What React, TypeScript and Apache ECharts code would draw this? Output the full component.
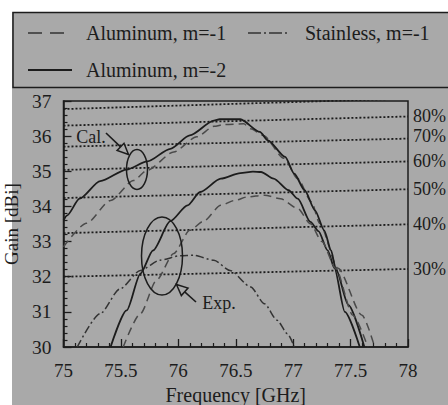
import React, { useEffect, useRef } from "react";
import * as echarts from "echarts";

// ---- data ----
const xTicks = { min: 75, max: 78, step: 0.5 };
const yTicks = { min: 30, max: 37, step: 1 };

// Aluminum, m=-1 (calculated, dashed, upper)
const alM1Cal: [number, number][] = [
  [75.0, 32.85], [75.2, 33.52], [75.41, 34.17], [75.61, 34.74], [75.73, 35.03],
  [75.96, 35.55], [76.16, 35.98], [76.31, 36.28], [76.4, 36.33], [76.57, 36.35],
  [76.63, 36.21], [76.74, 36.02], [76.92, 35.37], [77.04, 34.79], [77.16, 34.13],
  [77.23, 33.52], [77.39, 32.24], [77.6, 30.9], [77.71, 30.0],
];
// Aluminum, m=-2 (calculated, solid, upper)
const alM2Cal: [number, number][] = [
  [75.0, 33.6], [75.03, 33.74], [75.14, 34.22], [75.32, 34.72], [75.55, 35.05],
  [75.73, 35.28], [75.93, 35.64], [76.1, 36.02], [76.31, 36.44], [76.36, 36.48],
  [76.54, 36.48], [76.71, 36.12], [76.78, 35.88], [76.93, 35.41], [77.01, 34.93],
  [77.1, 34.46], [77.19, 33.89], [77.27, 33.32], [77.33, 32.75], [77.37, 32.24],
  [77.48, 31.2], [77.62, 30.0],
];
// Aluminum, m=-2 (experiment, solid, lower)
const alM2Exp: [number, number][] = [
  [75.41, 30.0], [75.55, 31.04], [75.67, 32.09], [75.78, 32.75], [75.93, 33.58],
  [76.08, 34.03], [76.19, 34.41], [76.37, 34.79], [76.54, 34.95], [76.65, 34.99],
  [76.72, 34.98], [76.83, 34.79], [76.96, 34.46], [77.04, 34.22], [77.15, 33.56],
  [77.22, 33.3], [77.3, 32.75], [77.36, 32.24], [77.45, 31.0], [77.58, 30.0],
];
// Aluminum, m=-1 (experiment, dashed, lower)
const alM1Exp: [number, number][] = [
  [75.52, 30.0], [75.67, 30.95], [75.81, 31.9], [75.96, 32.66], [76.1, 33.32],
  [76.22, 33.58], [76.37, 34.03], [76.49, 34.17], [76.6, 34.27], [76.75, 34.32],
  [76.89, 34.22], [77.04, 33.94], [77.15, 33.51], [77.25, 33.0], [77.37, 32.24],
  [77.52, 30.9], [77.65, 30.0],
];
// Stainless, m=-1 (experiment, dash-dot)
const ssM1Exp: [number, number][] = [
  [75.12, 30.0], [75.32, 30.95], [75.49, 31.65], [75.67, 32.18], [75.84, 32.47],
  [76.02, 32.6], [76.13, 32.61], [76.31, 32.47], [76.45, 32.18], [76.63, 31.71],
  [76.75, 31.23], [76.86, 30.76], [76.95, 30.38], [77.01, 30.0],
];

// aperture-efficiency reference lines: gain at 75 GHz and at 78 GHz
const effLabels = ["90%", "80%", "70%", "60%", "50%", "40%", "30%"];
const effGain75 = [36.77, 36.3, 35.7, 35.04, 34.24, 33.24, 32.0];
const effGain78 = [37.07, 36.56, 35.93, 35.28, 34.49, 33.49, 32.22];

const legendNames = ["Aluminum, m=-1", "Stainless, m=-1", "Aluminum, m=-2"];
const annotationTexts = ["Cal.", "Exp."];

// ---- styles ----
const FONT = "'Liberation Serif', 'Times New Roman', Times, serif";
const INK = "#1c1c1c";
const BG = "#a9a9a9";
const DASH = [8, 5];
const DASHDOT = [8, 3, 2, 3];
const effLabelOffsetY: Record<string, number> = { "70%": -3 };

export default function App() {
  const ref = useRef<HTMLDivElement>(null);

  useEffect(() => {
    if (!ref.current) return;
    const chart = echarts.init(ref.current, undefined, { renderer: "svg" });

    const curve = (name: string, data: [number, number][], type: any, color: string, width: number) => ({
      type: "line",
      name,
      data,
      symbol: "none",
      smooth: 0.25,
      smoothMonotone: "x",
      z: 5,
      lineStyle: { color, width, type },
      itemStyle: { color },
      silent: true,
    });

    const effSeries = effLabels.map((lab, i) => ({
      type: "line",
      name: "eff " + lab,
      data: [
        [xTicks.min, effGain75[i]],
        [xTicks.max, effGain78[i]],
      ],
      symbol: "none",
      silent: true,
      z: 3,
      lineStyle: { color: INK, width: 1.8, type: [2, 2] },
      endLabel: {
        show: i > 0,
        formatter: lab,
        distance: 5,
        offset: [0, effLabelOffsetY[lab] || 0],
        color: INK,
        fontSize: 18,
        fontFamily: FONT,
      },
    }));

    const arrow = (tail: number[], tip: number[]) => {
      const dx = tip[0] - tail[0];
      const dy = tip[1] - tail[1];
      const L = Math.hypot(dx, dy);
      const ux = dx / L, uy = dy / L;
      const hl = 11, hw = 5;
      const bx = tip[0] - ux * hl, by = tip[1] - uy * hl;
      return [
        { type: "line", shape: { x1: tail[0], y1: tail[1], x2: bx, y2: by }, style: { stroke: INK, lineWidth: 1.6 }, z: 20 },
        {
          type: "polygon",
          shape: { points: [[tip[0], tip[1]], [bx - uy * hw, by + ux * hw], [bx + uy * hw, by - ux * hw]] },
          style: { fill: BG, stroke: INK, lineWidth: 1.5 },
          z: 20,
        },
      ];
    };

    const legendText = (text: string, x: number, y: number) => ({
      type: "text",
      x,
      y,
      style: { text, fill: INK, font: `20px ${FONT}`, align: "left", verticalAlign: "middle" },
      z: 20,
    });
    const legendLine = (x1: number, x2: number, y: number, dash: number[] | null, color: string, width: number) => ({
      type: "line",
      shape: { x1, y1: y, x2, y2: y },
      style: { stroke: color, lineWidth: width, lineDash: dash || undefined },
      z: 20,
    });

    chart.setOption({
      animation: false,
      backgroundColor: "#ffffff",
      textStyle: { fontFamily: FONT },
      grid: {
        left: 63.5, top: 101, right: 40, bottom: 58,
        outerBoundsMode: "none", containLabel: false,
        show: true, borderColor: INK, borderWidth: 1.5, backgroundColor: "transparent",
      },
      xAxis: {
        type: "value",
        min: xTicks.min,
        max: xTicks.max,
        interval: xTicks.step,
        name: "Frequency [GHz]",
        nameLocation: "middle",
        nameGap: 36,
        nameTextStyle: { fontSize: 20, fontFamily: FONT, color: INK },
        axisLine: { lineStyle: { color: INK, width: 1.5 } },
        axisTick: { inside: true, length: 8, lineStyle: { color: INK, width: 1.3 } },
        minorTick: { show: true, splitNumber: 5, length: 4, lineStyle: { color: INK, width: 1.2 } },
        axisLabel: { fontSize: 19, fontFamily: FONT, color: INK, margin: 14 },
        splitLine: { show: false },
      },
      yAxis: {
        type: "value",
        min: yTicks.min,
        max: yTicks.max,
        interval: yTicks.step,
        name: "Gain [dBi]",
        nameLocation: "middle",
        nameGap: 30,
        nameTextStyle: { fontSize: 19, fontFamily: FONT, color: INK },
        axisLine: { lineStyle: { color: INK, width: 1.5 } },
        axisTick: { inside: true, length: 8, lineStyle: { color: INK, width: 1.3 } },
        minorTick: { show: true, splitNumber: 5, length: 4, lineStyle: { color: INK, width: 1.2 } },
        axisLabel: { fontSize: 19.5, fontFamily: FONT, color: INK, margin: 12 },
        splitLine: { show: false },
      },
      series: [
        ...effSeries,
        curve(legendNames[0], alM1Cal, DASH, "#4a4a4a", 1.5),
        curve(legendNames[2], alM2Cal, "solid", INK, 1.8),
        curve(legendNames[2], alM2Exp, "solid", INK, 1.8),
        curve(legendNames[0], alM1Exp, DASH, "#4a4a4a", 1.5),
        curve(legendNames[1], ssM1Exp, DASHDOT, "#333333", 1.5),
      ],
      graphic: [
        { type: "rect", shape: { x: 12, y: 12, width: 436, height: 393 }, style: { fill: BG }, z: -100, silent: true },
        // legend box and entries
        { type: "rect", shape: { x: 13, y: 12.5, width: 445, height: 75 }, style: { fill: "none", stroke: INK, lineWidth: 1.5 }, z: 10, silent: true },
        legendLine(28, 65, 33, [14, 8], "#333333", 1.5),
        legendText(legendNames[0], 86, 33),
        legendLine(248, 287, 33, [13, 3, 2, 3], "#333333", 1.5),
        legendText(legendNames[1], 305, 33),
        legendLine(28, 72, 70, null, INK, 1.8),
        legendText(legendNames[2], 86, 70),
        // annotations
        { type: "text", x: 91, y: 136.5, style: { text: annotationTexts[0], fill: INK, font: `18px ${FONT}`, align: "center", verticalAlign: "middle" }, z: 20 },
        ...arrow([106, 133], [128.5, 154.5]),
        { type: "ellipse", shape: { cx: 137, cy: 169.5, rx: 10.5, ry: 20 }, style: { fill: "none", stroke: INK, lineWidth: 1.5 }, z: 20 },
        { type: "text", x: 219, y: 302.5, style: { text: annotationTexts[1], fill: INK, font: `18px ${FONT}`, align: "center", verticalAlign: "middle" }, z: 20 },
        ...arrow([196, 302], [176.5, 284.5]),
        { type: "ellipse", shape: { cx: 162, cy: 256, rx: 20.5, ry: 39 }, style: { fill: "none", stroke: INK, lineWidth: 1.5 }, z: 20 },
      ],
    });

    return () => chart.dispose();
  }, []);

  return (
    <div style={{ position: "fixed", left: 0, top: 0, width: 448, height: 405, background: "#fff" }}>
      <div ref={ref} style={{ width: 448, height: 405 }} />
    </div>
  );
}
